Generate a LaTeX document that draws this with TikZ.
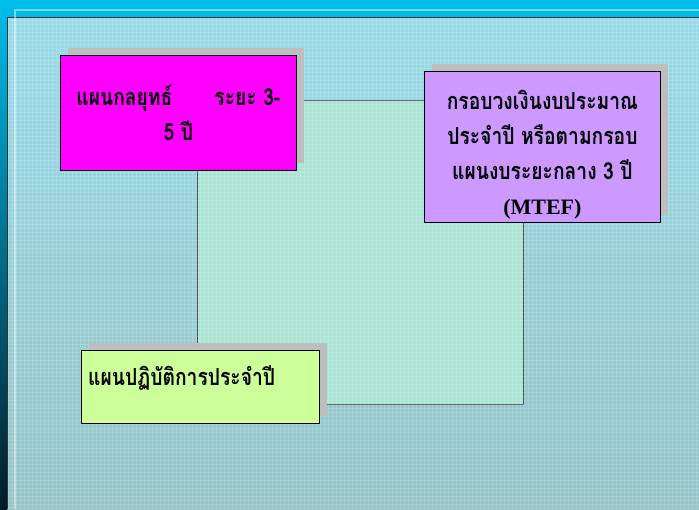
\documentclass[tikz,border=0pt]{standalone}
\usepackage{fontspec}
\setmainfont{Liberation Serif}
\newfontfamily\thaifont[Script=Thai, FakeStretch=0.82]{Loma}
\usetikzlibrary{positioning,shadows}
\definecolor{skytop}{RGB}{0,190,236}
\definecolor{skybot}{RGB}{0,28,40}
\definecolor{paneltop}{RGB}{152,218,232}
\definecolor{panelbot}{RGB}{150,196,200}
\definecolor{mint}{RGB}{170,228,212}
\definecolor{phaen}{RGB}{255,0,255}
\definecolor{budget}{RGB}{204,153,255}
\definecolor{action}{RGB}{204,255,153}
\definecolor{shadowgray}{RGB}{190,190,190}
\begin{document}
\begin{tikzpicture}[x=1pt, y=-1pt, line join=round,
	thai/.style={font=\thaifont\bfseries\fontsize{23.5}{35}\selectfont},
	box/.style={thai, draw=black, line width=0.8pt, inner sep=0pt, anchor=north west,
		drop shadow={shadow xshift=8pt, shadow yshift=7pt, fill=shadowgray, opacity=1}}]
	\def\W{699} \def\H{509}
	\useasboundingbox (0,0) rectangle (\W,\H);
	\shade[top color=skytop, bottom color=skybot] (0,0) rectangle (\W,\H);
	\shade[top color=paneltop, bottom color=panelbot] (7,17) rectangle (\W,\H);
	\draw[black!80, line width=1pt] (7,\H) |- (\W,17);
	\draw[white, opacity=.45, line width=1.2pt] (15,\H) |- (\W,10);
	\node[draw=black!70, fill=mint, line width=1pt, inner sep=0pt, anchor=north west,
		minimum width=326pt, minimum height=304pt] (frame) at (197,100) {};
	% lưới nền
	\begin{scope}
		\clip (8,18) rectangle (\W,\H);
		\draw[white, opacity=.18, line width=.6pt, step=4pt] (8,18) grid (\W,\H);
	\end{scope}
	\node[box, fill=phaen, minimum width=236pt, minimum height=115pt, align=center] (strategy) at (60,55)
		{แผนกลยุทธ์\hspace{42pt}ระยะ 3-\\5 ปี};
	\node[box, fill=budget, minimum width=236pt, minimum height=151pt, align=center] (mtef) at (424,71)
		{\rule{0pt}{34pt}กรอบวงเงินงบประมาณ\\ประจำปี หรือตามกรอบ\\แผนงบระยะกลาง 3 ปี\\{\rmfamily\fontsize{22}{35}\selectfont (MTEF)}};
	\node[box, fill=action, minimum width=238pt, minimum height=73pt] (annual) at (81,350) {};
	\node[thai, inner sep=0pt, below right=15pt and 7pt of annual.north west] (annualtext) {แผนปฏิบัติการประจำปี};
\end{tikzpicture}
\end{document}
